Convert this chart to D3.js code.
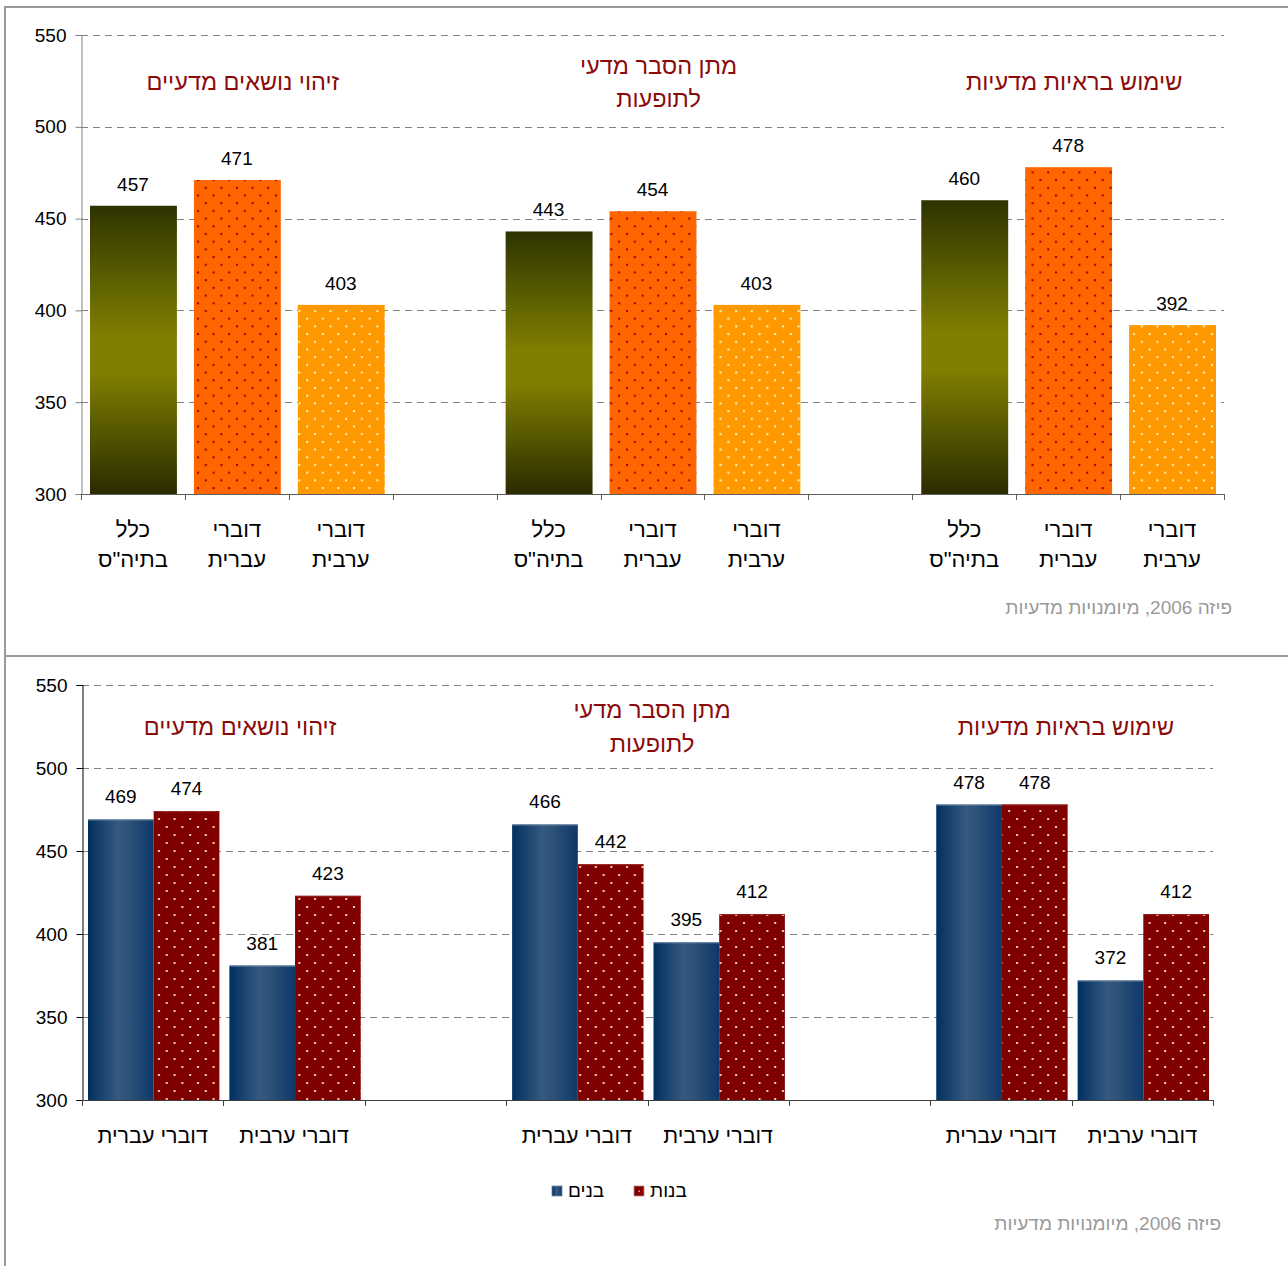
<!DOCTYPE html>
<html lang="he">
<head>
<meta charset="utf-8">
<script src="https://cdn.jsdelivr.net/npm/d3@7"></script>
<style>
  html, body { margin: 0; padding: 0; background: #fff; }
  svg { display: block; font-family: Arial, "Liberation Sans", sans-serif; }
</style>
</head>
<body>
<svg id="chart" width="1288" height="1266"></svg>
<script>
// ---- data ----
const groupTitles = [
  ["זיהוי נושאים מדעיים"],
  ["מתן הסבר מדעי", "לתופעות"],
  ["שימוש בראיות מדעיות"]
];
const topSeries = [["כלל", 'בתיה"ס'], ["דוברי", "עברית"], ["דוברי", "ערבית"]];
const allSchools = [457, 443, 460];
const hebrewSpeakers = [471, 454, 478];
const arabicSpeakers = [403, 403, 392];

const bottomCategories = ["דוברי עברית", "דוברי ערבית"];
const boys = [469, 381, 466, 395, 478, 372];
const girls = [474, 423, 442, 412, 478, 412];
const legendLabels = ["בנים", "בנות"];

const yTicks = [300, 350, 400, 450, 500, 550];
const sourceText = "פיזה 2006, מיומנויות מדעיות";

const titleRed = "#8b0a0a";
const svg = d3.select("#chart");

// ---- defs: gradients and dot patterns ----
const defs = svg.append("defs");

const olive = defs.append("linearGradient").attr("id", "olive")
  .attr("x1", 0).attr("y1", 0).attr("x2", 0).attr("y2", 1);
olive.append("stop").attr("offset", "0%").attr("stop-color", "#2e3300");
olive.append("stop").attr("offset", "45%").attr("stop-color", "#7f7f00");
olive.append("stop").attr("offset", "58%").attr("stop-color", "#7f7f00");
olive.append("stop").attr("offset", "100%").attr("stop-color", "#2b2b00");

const blue = defs.append("linearGradient").attr("id", "blue")
  .attr("x1", 0).attr("y1", 0).attr("x2", 1).attr("y2", 0);
blue.append("stop").attr("offset", "0%").attr("stop-color", "#003060");
blue.append("stop").attr("offset", "45%").attr("stop-color", "#35597f");
blue.append("stop").attr("offset", "60%").attr("stop-color", "#2f5378");
blue.append("stop").attr("offset", "100%").attr("stop-color", "#0d3868");

function dots(id, bg, dot, w, h) {
  const p = defs.append("pattern").attr("id", id)
    .attr("patternUnits", "userSpaceOnUse").attr("width", w).attr("height", h);
  p.append("rect").attr("width", w).attr("height", h).attr("fill", bg);
  p.append("rect").attr("x", 2).attr("y", 2).attr("width", 2).attr("height", 2).attr("fill", dot);
  p.append("rect").attr("x", 2 + w / 2).attr("y", 2 + h / 2).attr("width", 2).attr("height", 2).attr("fill", dot);
}
dots("orangeDots", "#ff6600", "#990000", 15.6, 15.4);
dots("amberDots", "#ff9900", "#fff0c8", 15.6, 15.4);
dots("redDots", "#800000", "#efd2a8", 15.6, 16);

// ---- panel frames ----
const frame = "#9a9a9a";
svg.append("line").attr("x1", 4).attr("x2", 1288).attr("y1", 7).attr("y2", 7)
  .attr("stroke", frame).attr("stroke-width", 2);
svg.append("line").attr("x1", 4).attr("x2", 1288).attr("y1", 656).attr("y2", 656)
  .attr("stroke", frame).attr("stroke-width", 2);
svg.append("line").attr("x1", 5).attr("x2", 5).attr("y1", 6).attr("y2", 1266)
  .attr("stroke", frame).attr("stroke-width", 2);

function yAxis(g, y, left, right, axisColor) {
  g.append("g")
    .selectAll("line").data(yTicks.slice(1)).join("line")
    .attr("x1", left).attr("x2", right)
    .attr("y1", d => Math.round(y(d)) + 0.5).attr("y2", d => Math.round(y(d)) + 0.5)
    .attr("stroke", "#808080").attr("stroke-dasharray", "7,5");

  const ax = g.append("g").attr("transform", `translate(${left + 0.5},0)`)
    .call(d3.axisLeft(y).tickValues(yTicks).tickSize(6).tickPadding(9));
  ax.select(".domain").attr("stroke", axisColor);
  ax.selectAll(".tick line").attr("stroke", axisColor);
  ax.selectAll(".tick text").attr("font-size", 19).attr("fill", "#000")
    .attr("font-family", "Arial, 'Liberation Sans', sans-serif");
}

function xAxis(g, x, yPos, axisColor) {
  const dom = x.domain();
  const edges = dom.map(k => x(k)).concat([x(dom[dom.length - 1]) + x.bandwidth()]);
  g.append("line").attr("x1", edges[0]).attr("x2", edges[edges.length - 1])
    .attr("y1", yPos + 0.5).attr("y2", yPos + 0.5).attr("stroke", axisColor);
  g.selectAll(".xtick").data(edges).join("line").attr("class", "xtick")
    .attr("x1", d => Math.round(d) + 0.5).attr("x2", d => Math.round(d) + 0.5)
    .attr("y1", yPos).attr("y2", yPos + 6).attr("stroke", axisColor);
}

function titles(g, centers, lineYs) {
  groupTitles.forEach((lines, i) => {
    const ys = lines.length === 1 ? [lineYs[1]] : [lineYs[0], lineYs[2]];
    lines.forEach((t, j) => {
      g.append("text").attr("x", centers[i]).attr("y", ys[j])
        .attr("text-anchor", "middle").attr("direction", "rtl")
        .attr("font-size", 23.5).attr("fill", titleRed).text(t);
    });
  });
}

function source(g, xRight, yBase) {
  g.append("text").attr("x", xRight).attr("y", yBase)
    .attr("direction", "rtl").attr("text-anchor", "start")
    .attr("font-size", 19).attr("fill", "#9a9a9a").text(sourceText);
}

// ---- top chart ----
{
  const g = svg.append("g");
  const y = d3.scaleLinear().domain([300, 550]).range([494, 35]);
  const seriesVals = [allSchools, hebrewSpeakers, arabicSpeakers];
  const fills = ["url(#olive)", "url(#orangeDots)", "url(#amberDots)"];

  const keys = [];
  const bars = [];
  groupTitles.forEach((_, gi) => {
    topSeries.forEach((s, si) => {
      const k = `g${gi}s${si}`;
      keys.push(k);
      bars.push({ key: k, value: seriesVals[si][gi], fill: fills[si], label: s });
    });
    if (gi < groupTitles.length - 1) keys.push(`gap${gi}`);
  });
  const x = d3.scaleBand().domain(keys).range([81, 1224]).padding(0);
  const inset = 9;

  yAxis(g, y, 81, 1224, "#808080");

  g.selectAll(".bar").data(bars).join("rect").attr("class", "bar")
    .attr("x", d => x(d.key) + inset)
    .attr("width", x.bandwidth() - 2 * inset + 1)
    .attr("y", d => y(d.value))
    .attr("height", d => y(300) - y(d.value))
    .attr("fill", d => d.fill);

  g.selectAll(".val").data(bars).join("text").attr("class", "val")
    .attr("x", d => x(d.key) + x.bandwidth() / 2)
    .attr("y", d => y(d.value) - 15)
    .attr("text-anchor", "middle").attr("font-size", 19).text(d => d.value);

  xAxis(g, x, 494, "#606060");

  bars.forEach(d => {
    d.label.forEach((t, j) => {
      g.append("text").attr("x", x(d.key) + x.bandwidth() / 2).attr("y", 537 + j * 30)
        .attr("text-anchor", "middle").attr("direction", "rtl")
        .attr("font-size", 22).text(t);
    });
  });

  const centers = [0, 1, 2].map(gi => (x(`g${gi}s0`) + x(`g${gi}s2`) + x.bandwidth()) / 2 + 6);
  titles(g, centers, [74, 90, 107]);
  source(g, 1232, 614);
}

// ---- bottom chart ----
{
  const g = svg.append("g");
  const y = d3.scaleLinear().domain([300, 550]).range([1100, 685]);

  const keys = [];
  const cells = [];
  groupTitles.forEach((_, gi) => {
    bottomCategories.forEach((c, ci) => {
      const k = `g${gi}c${ci}`;
      keys.push(k);
      cells.push({ key: k, label: c, boys: boys[gi * 2 + ci], girls: girls[gi * 2 + ci] });
    });
    if (gi < groupTitles.length - 1) keys.push(`gap${gi}`);
  });
  const x = d3.scaleBand().domain(keys).range([82, 1213]).padding(0);
  const inner = d3.scaleBand().domain(["boys", "girls"]).range([6, x.bandwidth() - 4]).padding(0);

  yAxis(g, y, 82, 1213, "#000");

  const bars = cells.flatMap(c => [
    { key: c.key, s: "boys", value: c.boys, fill: "url(#blue)" },
    { key: c.key, s: "girls", value: c.girls, fill: "url(#redDots)" }
  ]);

  g.selectAll(".bar").data(bars).join("rect").attr("class", "bar")
    .attr("x", d => x(d.key) + inner(d.s))
    .attr("width", inner.bandwidth())
    .attr("y", d => y(d.value))
    .attr("height", d => y(300) - y(d.value))
    .attr("fill", d => d.fill);

  g.selectAll(".bartop").data(bars).join("line").attr("class", "bartop")
    .attr("x1", d => x(d.key) + inner(d.s))
    .attr("x2", d => x(d.key) + inner(d.s) + inner.bandwidth())
    .attr("y1", d => y(d.value) + 0.5).attr("y2", d => y(d.value) + 0.5)
    .attr("stroke", d => d.s === "boys" ? "#6d88a8" : "#9a2020");

  g.selectAll(".val").data(bars).join("text").attr("class", "val")
    .attr("x", d => x(d.key) + inner(d.s) + inner.bandwidth() / 2)
    .attr("y", d => y(d.value) - 16)
    .attr("text-anchor", "middle").attr("font-size", 19).text(d => d.value);

  xAxis(g, x, 1100, "#404040");

  g.selectAll(".cat").data(cells).join("text").attr("class", "cat")
    .attr("x", d => x(d.key) + x.bandwidth() / 2)
    .attr("y", 1143)
    .attr("text-anchor", "middle").attr("direction", "rtl")
    .attr("font-size", 21.5).text(d => d.label);

  const centers = [240, 652, 1066];
  titles(g, centers, [718, 735, 752]);

  // legend
  const legend = g.append("g");
  const legendFills = ["url(#blue)", "#800000"];
  const legendX = [552, 634];
  legendLabels.forEach((t, i) => {
    legend.append("rect").attr("x", legendX[i]).attr("y", 1186).attr("width", 10).attr("height", 10)
      .attr("fill", legendFills[i]).attr("stroke", i === 0 ? "#6d88a8" : "#c08080").attr("stroke-width", 0.8);
    if (i === 1) legend.append("rect").attr("x", legendX[i] + 4.5).attr("y", 1190.5)
      .attr("width", 1.4).attr("height", 1.4).attr("fill", "#e8c8a0");
    legend.append("text").attr("x", legendX[i] + 16).attr("y", 1197)
      .attr("direction", "rtl").attr("text-anchor", "end")
      .attr("font-size", 19).text(t);
  });

  source(g, 1221, 1230);
}
</script>
</body>
</html>
